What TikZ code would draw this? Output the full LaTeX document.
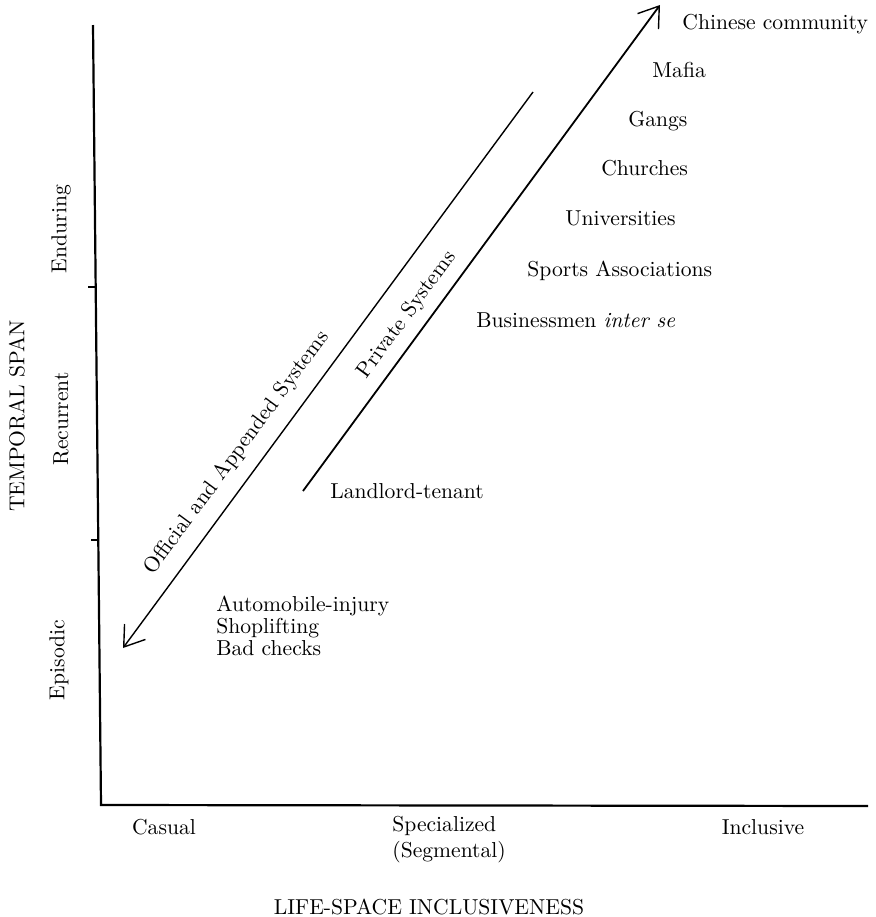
\documentclass[tikz,border=0pt]{standalone}
\usepackage{tikz}
\usetikzlibrary{arrows.meta}
\usetikzlibrary{positioning}

\begin{document}
\begin{tikzpicture}[x=0.5pt, y=-0.5pt,
  every node/.style={font=\fontsize{10.8}{11}\selectfont, inner sep=0pt},
  axis/.style={line width=1.1pt},
  flow/.style={-{Straight Barb[length=9.5pt, width=13pt, line width=0.7pt]}},
  item/.style={anchor=mid west}]
\useasboundingbox (0,0) rectangle (875,917);

% axes
\coordinate (YTop) at (93,25);
\coordinate (Origin) at (101,805);
\coordinate (XEnd) at (868,806);
\draw[axis] (YTop) -- (Origin) -- (XEnd);
\draw[line width=0.8pt] (88,287) -- (97,287);
\draw[line width=0.8pt] (91,540) -- (99,540);

\node[rotate=90] (TemporalSpan) at (17,416) {TEMPORAL SPAN};
\node[rotate=90] (Enduring) at (61,229) {Enduring};
\node[rotate=90] (Recurrent) at (61,419) {Recurrent};
\node[rotate=90] (Episodic) at (59,660) {Episodic};

\node (Casual) at (164,827) {Casual};
\node[item] (Specialized) at (392,827) {Specialized};
\node[item] (Segmental) at (392,853) {(Segmental)};
\node (Inclusive) at (763,827) {Inclusive};
\node (LifeSpace) at (429,907) {LIFE-SPACE INCLUSIVENESS};

% the two systems
\coordinate (OfficialStart) at (533,92);
\coordinate (OfficialEnd) at (123,648);
\coordinate (PrivateStart) at (303,491);
\coordinate (PrivateEnd) at (660,5);
\draw[flow, line width=0.7pt] (OfficialStart) -- (OfficialEnd);
\draw[flow, line width=0.9pt] (PrivateStart) -- (PrivateEnd);
\node[rotate=53.6] (OfficialLabel) at (237,453) {Official and Appended Systems};
\node[rotate=53.7] (PrivateLabel) at (407,315) {Private Systems};

% disputes
\node[item] (Chinese) at (682,25) {Chinese community};
\node[item] (Mafia) at (652,73) {Mafia};
\node[item] (Gangs) at (628,122) {Gangs};
\node[item] (Churches) at (601,171) {Churches};
\node[item] (Universities) at (565,221) {Universities};
\node[item] (Sports) at (527,272) {Sports Associations};
\node[item] (Businessmen) at (476,323) {Businessmen \textit{inter se}};
\node[item] (Landlord) at (330,494) {Landlord-tenant};
\node[item] (Automobile) at (216,607) {Automobile-injury};
\node[item] (Shoplifting) at (216,629) {Shoplifting};
\node[item] (BadChecks) at (216,651) {Bad checks};
\end{tikzpicture}
\end{document}
